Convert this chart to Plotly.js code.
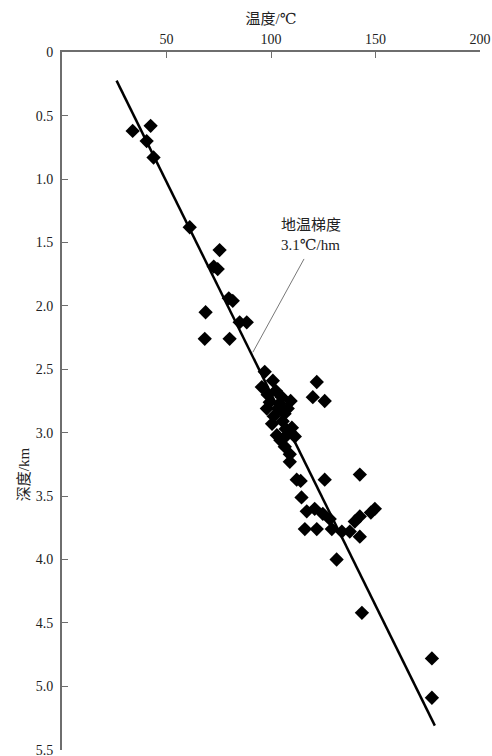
<!DOCTYPE html>
<html>
<head>
<meta charset="utf-8">
<script src="https://cdn.plot.ly/plotly-3.0.1.min.js"></script>
<style>html,body{margin:0;padding:0;background:#fff;}#chart{width:492px;height:756px;}</style>
</head>
<body>
<div id="chart"></div>
<script>
// Measured temperature (°C) and depth (km)
const temperature = [33.8, 42.4, 40.5, 43.8, 61.1, 75.4, 72.6, 74.5, 79.8, 81.7, 68.7, 85.0, 88.4, 68.3, 80.2,
  97.0, 100.9, 121.9, 120.0, 125.7,
  95.6, 98.4, 102.3, 105.2, 109.4, 99.4, 98.0, 103.3, 108.0, 101.3, 105.6, 110.0, 102.8, 107.5, 111.4, 106.6, 109.0, 109.0,
  104.0, 106.5, 100.5, 107.0, 104.5,
  112.3, 114.2, 125.7, 142.5, 114.6, 117.1, 120.9, 124.8, 128.1, 116.2, 121.9, 129.1, 133.9, 137.7, 142.5, 142.5, 140.1,
  149.7, 147.8, 131.4, 143.5, 177.0, 177.0];
const depth = [0.62, 0.58, 0.70, 0.83, 1.38, 1.56, 1.69, 1.71, 1.94, 1.96, 2.05, 2.13, 2.13, 2.26, 2.26,
  2.52, 2.59, 2.60, 2.72, 2.75,
  2.64, 2.70, 2.67, 2.72, 2.75, 2.76, 2.81, 2.81, 2.81, 2.87, 2.91, 2.96, 3.02, 3.02, 3.03, 3.11, 3.17, 3.23,
  2.77, 2.85, 2.93, 2.97, 3.06,
  3.37, 3.38, 3.37, 3.33, 3.51, 3.62, 3.60, 3.64, 3.68, 3.76, 3.76, 3.76, 3.78, 3.78, 3.82, 3.66, 3.70,
  3.60, 3.63, 4.00, 4.42, 4.78, 5.09];
// Fitted gradient line
const fitTemp = [26.1, 178.4];
const fitDepth = [0.224, 5.31];
// Axis ticks
const xTicks = [50, 100, 150, 200];
const yTicks = [0, 0.5, 1.0, 1.5, 2.0, 2.5, 3.0, 3.5, 4.0, 4.5, 5.0, 5.5];
const yTickText = ['0', '0.5', '1.0', '1.5', '2.0', '2.5', '3.0', '3.5', '4.0', '4.5', '5.0', '5.5'];
// Labels
const xTitle = '温度/℃';
const yTitle = '深度/km';
const noteText = '地温梯度<br>3.1℃/hm';
const notePos = {x: 104.0, y: 1.44};
const leaderTip = {x: 91.3, y: 2.366};
const leaderTail = {x: 116.2, y: 1.618};

const serif = '"Liberation Serif", "DejaVu Serif", "Noto Sans CJK SC", serif';
const axisColor = '#6e6e6e';

const traces = [
  {
    x: fitTemp, y: fitDepth, type: 'scatter', mode: 'lines',
    line: {color: '#000', width: 2.5}, hoverinfo: 'skip', showlegend: false
  },
  {
    x: temperature, y: depth, type: 'scatter', mode: 'markers',
    marker: {symbol: 'diamond', size: 11, color: '#000', line: {width: 0}},
    showlegend: false
  }
];

const layout = {
  width: 492, height: 756,
  margin: {l: 62, r: 12, t: 52, b: 6},
  paper_bgcolor: '#fff', plot_bgcolor: '#fff',
  font: {family: serif, color: '#222', size: 13},
  xaxis: {
    side: 'top', range: [-0.01, 200.01], tickvals: xTicks, ticktext: xTicks.map(String),
    showgrid: false, zeroline: false, showline: true, linecolor: axisColor, linewidth: 2,
    ticks: 'inside', ticklen: 6, tickcolor: axisColor, tickwidth: 1,
    ticklabeloverflow: 'allow',
    tickfont: {family: serif, size: 14, color: '#222'},
    title: {text: xTitle, font: {family: serif, size: 15, color: '#222'}, standoff: 4}
  },
  yaxis: {
    range: [5.502, -0.002], tickvals: yTicks, ticktext: yTickText,
    showgrid: false, zeroline: false, showline: true, linecolor: axisColor, linewidth: 2,
    ticks: 'inside', ticklen: 6, tickcolor: axisColor, tickwidth: 1,
    ticklabelstandoff: 4, ticklabeloverflow: 'allow',
    tickfont: {family: serif, size: 14, color: '#222'}
  },
  annotations: [
    {
      xref: 'paper', yref: 'paper', x: -0.115, y: 0.395, text: yTitle, textangle: -90,
      showarrow: false, font: {family: serif, size: 15, color: '#222'}
    },
    {
      xref: 'x', yref: 'y', x: notePos.x, y: notePos.y, text: noteText, align: 'left',
      xanchor: 'left', yanchor: 'middle', showarrow: false,
      font: {family: serif, size: 15, color: '#222'}
    },
    {
      xref: 'x', yref: 'y', axref: 'x', ayref: 'y',
      x: leaderTip.x, y: leaderTip.y, ax: leaderTail.x, ay: leaderTail.y,
      text: '', showarrow: true, arrowhead: 0, arrowwidth: 0.8, arrowcolor: '#555'
    }
  ]
};

Plotly.newPlot('chart', traces, layout, {displayModeBar: false, staticPlot: true});
</script>
</body>
</html>
